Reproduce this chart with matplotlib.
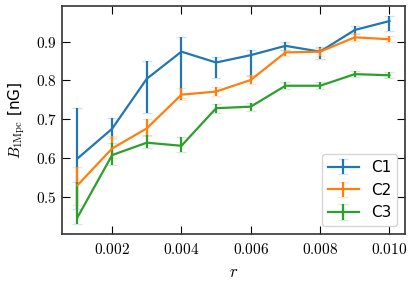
import matplotlib
matplotlib.use("Agg")
import matplotlib.pyplot as plt
from matplotlib.ticker import FuncFormatter

plt.rcParams["mathtext.fontset"] = "cm"

r = [0.001, 0.002, 0.003, 0.004, 0.005, 0.006, 0.007, 0.008, 0.009, 0.010]

c1 = [0.598, 0.675, 0.804, 0.874, 0.846, 0.865, 0.889, 0.874, 0.930, 0.953]
c1_lo = [0.130, 0.025, 0.088, 0.120, 0.041, 0.054, 0.012, 0.019, 0.010, 0.026]
c1_hi = [0.131, 0.029, 0.046, 0.037, 0.015, 0.012, 0.009, 0.011, 0.009, 0.012]

c2 = [0.529, 0.624, 0.676, 0.763, 0.771, 0.801, 0.872, 0.874, 0.911, 0.906]
c2_lo = [0.050, 0.025, 0.020, 0.013, 0.012, 0.011, 0.009, 0.010, 0.010, 0.008]
c2_hi = [0.047, 0.031, 0.024, 0.018, 0.013, 0.013, 0.007, 0.010, 0.010, 0.008]

c3 = [0.446, 0.607, 0.639, 0.631, 0.728, 0.732, 0.786, 0.786, 0.816, 0.813]
c3_lo = [0.016, 0.026, 0.015, 0.015, 0.012, 0.010, 0.009, 0.009, 0.008, 0.008]
c3_hi = [0.091, 0.030, 0.020, 0.022, 0.010, 0.010, 0.009, 0.009, 0.008, 0.008]

labels = ["C1", "C2", "C3"]

fig, ax = plt.subplots(figsize=(4.15, 2.88), dpi=100)
fig.subplots_adjust(left=0.149, right=0.976, bottom=0.1875, top=0.979)

for y, lo, hi, lab in [(c1, c1_lo, c1_hi, labels[0]),
                       (c2, c2_lo, c2_hi, labels[1]),
                       (c3, c3_lo, c3_hi, labels[2])]:
    line, caps, bars = ax.errorbar(r, y, yerr=[lo, hi], label=lab,
                                   lw=1.6, elinewidth=1.6, capsize=3.5)
    for c in caps:
        c.set_alpha(0.2)

ax.set_xticks([0.002, 0.004, 0.006, 0.008, 0.010])
ax.set_yticks([0.5, 0.6, 0.7, 0.8, 0.9])
ax.xaxis.set_major_formatter(FuncFormatter(lambda v, p: f"${v:.3f}$"))
ax.yaxis.set_major_formatter(FuncFormatter(lambda v, p: f"${v:.1f}$"))
ax.tick_params(direction="in", top=True, right=True, labelsize=11, length=6)
ax.tick_params(axis="x", pad=6)
for s in ax.spines.values():
    s.set_color("#333333")
    s.set_linewidth(1.2)

ax.set_xlabel("$r$", fontsize=12, labelpad=4)
ax.set_ylabel(r"$B_{\rm 1Mpc}$ [nG]", fontsize=11, labelpad=6)
ax.legend(loc="lower right", fontsize=11)

fig.savefig("out.png")
